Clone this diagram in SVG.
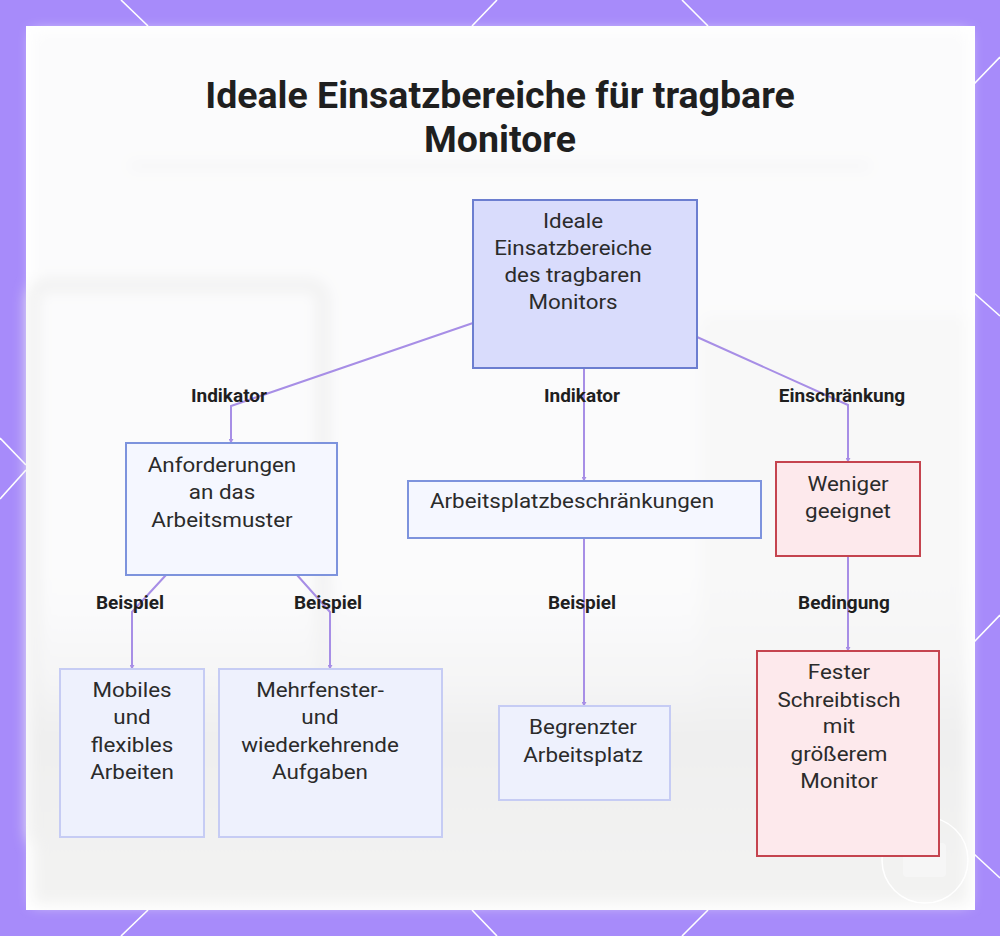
<svg xmlns="http://www.w3.org/2000/svg" width="1000" height="936" viewBox="0 0 1000 936">
<defs>
<style>
.title{font-family:Roboto,"Liberation Sans",sans-serif;font-weight:700;font-size:37.5px;fill:#1f1f1f;text-anchor:middle}
.nt{font-family:Roboto,"Liberation Sans",sans-serif;font-size:20px;fill:#2b2b2b;text-anchor:middle}
.lb{font-family:Roboto,"Liberation Sans",sans-serif;font-weight:700;font-size:19px;fill:#1f1f1f;text-anchor:middle}
.edge{fill:none;stroke:#a78ee6;stroke-width:2}
.deco{stroke:#ffffff;stroke-width:1.6;fill:none}
.root{fill:#d9dcfc;stroke:#6c7ed0;stroke-width:2}
.mid{fill:#f5f7ff;stroke:#7d93dd;stroke-width:2}
.leaf{fill:#eef1fd;stroke:#c6ccf4;stroke-width:2}
.warn{fill:#fde9ec;stroke:#c5444f;stroke-width:2}
</style>
<filter id="blur" x="-20%" y="-20%" width="140%" height="140%"><feGaussianBlur stdDeviation="7"/></filter>
<linearGradient id="floor" x1="0" y1="0" x2="0" y2="1">
<stop offset="0" stop-color="#f7f7f8" stop-opacity="0"/>
<stop offset="0.5" stop-color="#efefef"/>
<stop offset="1" stop-color="#f3f3f2"/>
</linearGradient>
<marker id="arr" viewBox="0 0 6 6" refX="5" refY="3" markerWidth="2.5" markerHeight="2.5" orient="auto"><path d="M0,0 L6,3 L0,6 z" fill="#a78ee6"/></marker>
</defs>

<rect x="0" y="0" width="1000" height="936" fill="#a78bfa"/>
<g class="deco">
<line x1="121" y1="0" x2="148" y2="26"/>
<line x1="497" y1="0" x2="472" y2="26"/>
<line x1="682" y1="0" x2="708" y2="26"/>
<line x1="1000" y1="57" x2="974" y2="84"/>
<line x1="974" y1="293" x2="1000" y2="316"/>
<line x1="974" y1="642" x2="1000" y2="615"/>
<line x1="974" y1="854" x2="1000" y2="878"/>
<line x1="0" y1="438" x2="26" y2="465"/>
<line x1="26" y1="470" x2="0" y2="499"/>
<line x1="148" y1="910" x2="121" y2="936"/>
<line x1="472" y1="910" x2="497" y2="936"/>
<line x1="708" y1="910" x2="682" y2="936"/>
</g>
<rect x="26" y="26" width="949" height="884" fill="#ffffff"/>
<g id="backdrop" filter="url(#blur)">
<rect x="33" y="32" width="935" height="872" fill="#fbfbfc"/>
<line x1="130" y1="166" x2="870" y2="166" stroke="#ececec" stroke-width="3"/>
<rect x="33" y="285" width="290" height="560" rx="14" fill="none" stroke="#f0f0f0" stroke-width="12"/>
<rect x="700" y="315" width="268" height="520" rx="10" fill="#f8f8f8"/>
<rect x="33" y="570" width="935" height="334" fill="url(#floor)"/>
</g>
<g id="badge" fill="none" stroke="#ffffff" stroke-width="1.5">
<circle cx="925" cy="860" r="43"/>
<rect x="903" y="843" width="43" height="34" rx="4" fill="#f6f6f6" stroke="none"/>
</g>

<text class="title" x="500" y="108">Ideale Einsatzbereiche für tragbare</text>
<text class="title" x="500" y="152">Monitore</text>

<g id="connectors">
<polyline class="edge" points="473,323 231,406 231,443" marker-end="url(#arr)"/>
<polyline class="edge" points="584,368 584,481" marker-end="url(#arr)"/>
<polyline class="edge" points="697,337 848,405 848,462" marker-end="url(#arr)"/>
<polyline class="edge" points="166,575 132,612 132,669" marker-end="url(#arr)"/>
<polyline class="edge" points="297,575 330,612 330,669" marker-end="url(#arr)"/>
<polyline class="edge" points="584,538 584,706" marker-end="url(#arr)"/>
<polyline class="edge" points="848,556 848,651" marker-end="url(#arr)"/>
<text class="lb" x="229" y="402">Indikator</text>
<text class="lb" x="582" y="402">Indikator</text>
<text class="lb" x="842" y="402">Einschränkung</text>
<text class="lb" x="130" y="609">Beispiel</text>
<text class="lb" x="328" y="609">Beispiel</text>
<text class="lb" x="582" y="609">Beispiel</text>
<text class="lb" x="844" y="609">Bedingung</text>
</g>

<g id="root">
<rect class="root" x="473" y="200" width="224" height="168"/>
<text class="nt" transform="translate(573 0) scale(1.12 1)"><tspan x="0" y="228">Ideale</tspan><tspan x="0" y="255">Einsatzbereiche</tspan><tspan x="0" y="282">des tragbaren</tspan><tspan x="0" y="309">Monitors</tspan></text>
</g>
<g id="arbeitsmuster">
<rect class="mid" x="126" y="443" width="211" height="132"/>
<text class="nt" transform="translate(222 0) scale(1.12 1)"><tspan x="0" y="472">Anforderungen</tspan><tspan x="0" y="499">an das</tspan><tspan x="0" y="527">Arbeitsmuster</tspan></text>
</g>
<g id="arbeitsplatz">
<rect class="mid" x="408" y="481" width="353" height="57"/>
<text class="nt" transform="translate(572 0) scale(1.12 1)"><tspan x="0" y="508">Arbeitsplatzbeschränkungen</tspan></text>
</g>
<g id="weniger">
<rect class="warn" x="776" y="462" width="144" height="94"/>
<text class="nt" transform="translate(848 0) scale(1.12 1)"><tspan x="0" y="491">Weniger</tspan><tspan x="0" y="518">geeignet</tspan></text>
</g>
<g id="mobil">
<rect class="leaf" x="60" y="669" width="144" height="168"/>
<text class="nt" transform="translate(132 0) scale(1.12 1)"><tspan x="0" y="697">Mobiles</tspan><tspan x="0" y="724">und</tspan><tspan x="0" y="752">flexibles</tspan><tspan x="0" y="779">Arbeiten</tspan></text>
</g>
<g id="mehrfenster">
<rect class="leaf" x="219" y="669" width="223" height="168"/>
<text class="nt" transform="translate(320 0) scale(1.12 1)"><tspan x="0" y="697">Mehrfenster-</tspan><tspan x="0" y="724">und</tspan><tspan x="0" y="752">wiederkehrende</tspan><tspan x="0" y="779">Aufgaben</tspan></text>
</g>
<g id="begrenzt">
<rect class="leaf" x="499" y="706" width="171" height="94"/>
<text class="nt" transform="translate(583 0) scale(1.12 1)"><tspan x="0" y="734">Begrenzter</tspan><tspan x="0" y="762">Arbeitsplatz</tspan></text>
</g>
<g id="fester">
<rect class="warn" x="757" y="651" width="182" height="205"/>
<text class="nt" transform="translate(839 0) scale(1.12 1)"><tspan x="0" y="679">Fester</tspan><tspan x="0" y="707">Schreibtisch</tspan><tspan x="0" y="733">mit</tspan><tspan x="0" y="761">größerem</tspan><tspan x="0" y="788">Monitor</tspan></text>
</g>
</svg>
